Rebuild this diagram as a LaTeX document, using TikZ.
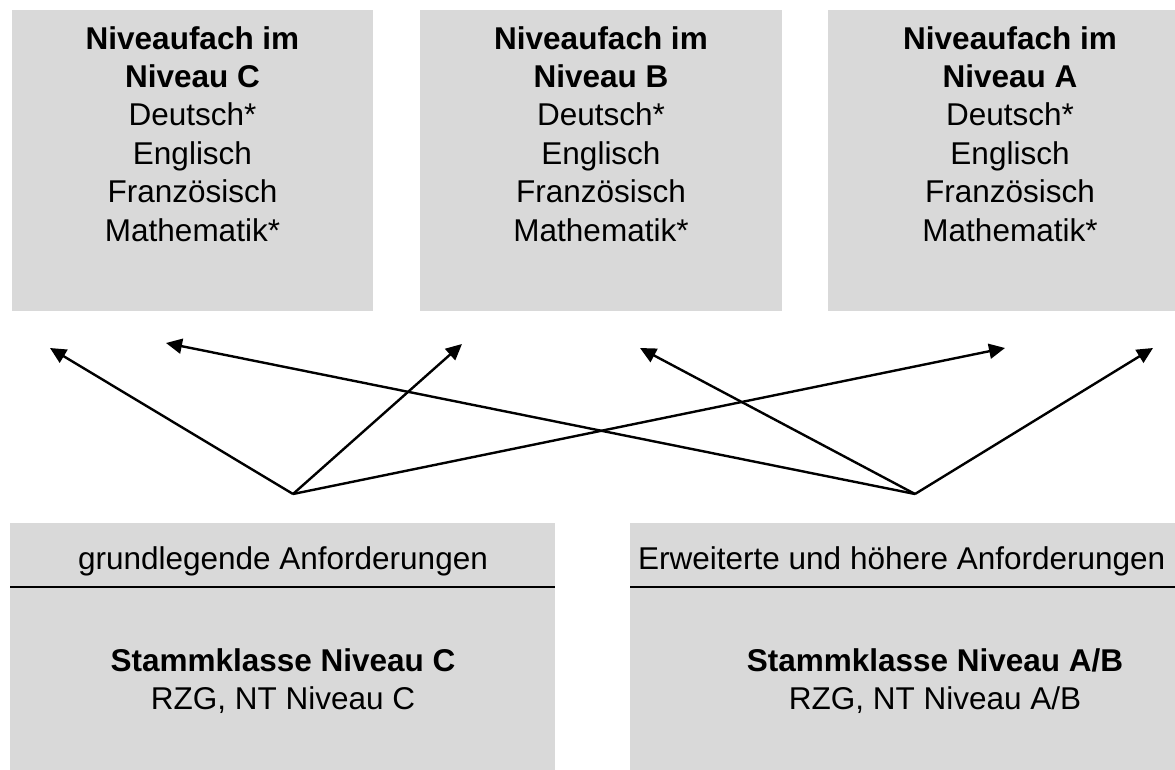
\documentclass[tikz,border=0pt]{standalone}
\usepackage{fontspec}
\setmainfont{Liberation Sans}
\usetikzlibrary{arrows.meta}
\definecolor{boxgray}{HTML}{D9D9D9}
\begin{document}
\begin{tikzpicture}[x=1pt,y=-1pt,
  box/.style={fill=boxgray, draw=none, inner sep=0pt, outer sep=0pt, anchor=north west},
  txt/.style={align=center, inner sep=0pt, font=\fontsize{31.5}{38.4}\selectfont},
  conn/.style={line width=2.4pt, -{Triangle[length=16pt,width=15pt]}},
  sepline/.style={line width=2.3pt}]
\useasboundingbox (0,0) rectangle (1175,770);
% top boxes
\node[box, minimum width=361pt, minimum height=301pt] (bc) at (12,10) {};
\node[box, minimum width=362pt, minimum height=301pt] (bb) at (420,10) {};
\node[box, minimum width=364pt, minimum height=301pt] (ba) at (828,10) {};
\node[txt, anchor=north] (tc) at (192.5,26) {\textbf{Niveaufach im}\\\textbf{Niveau C}\\Deutsch*\\Englisch\\Französisch\\Mathematik*};
\node[txt, anchor=north] (tb) at (601,26) {\textbf{Niveaufach im}\\\textbf{Niveau B}\\Deutsch*\\Englisch\\Französisch\\Mathematik*};
\node[txt, anchor=north] (ta) at (1010,26) {\textbf{Niveaufach im}\\\textbf{Niveau A}\\Deutsch*\\Englisch\\Französisch\\Mathematik*};
% bottom boxes
\node[box, minimum width=545pt, minimum height=250pt] (sl) at (10,523) {};
\node[box, minimum width=610pt, minimum height=250pt] (sr) at (630,523) {};
\draw[sepline] (10,587) -- (555,587);
\draw[sepline] (630,587) -- (1175,587);
\node[txt, anchor=base] (slh) at (283,569) {grundlegende Anforderungen};
\node[txt, anchor=base west] (srh) at (638,569) {Erweiterte und höhere Anforderungen};
\node[txt, anchor=north] (slm) at (283,648) {\textbf{Stammklasse Niveau C}\\RZG, NT Niveau C};
\node[txt, anchor=north] (srm) at (935,648) {\textbf{Stammklasse Niveau A/B}\\RZG, NT Niveau A/B};
% arrows
\coordinate (a) at (293,494);
\coordinate (b) at (915,494);
\coordinate (t1) at (50,348);
\coordinate (t2) at (166,343);
\coordinate (t3) at (462,344);
\coordinate (t4) at (640,348);
\coordinate (t5) at (1005,348);
\coordinate (t6) at (1153,348);
\draw[conn] (a) -- (t1);
\draw[conn] (a) -- (t3);
\draw[conn] (a) -- (t5);
\draw[conn] (b) -- (t2);
\draw[conn] (b) -- (t4);
\draw[conn] (b) -- (t6);
\end{tikzpicture}
\end{document}
